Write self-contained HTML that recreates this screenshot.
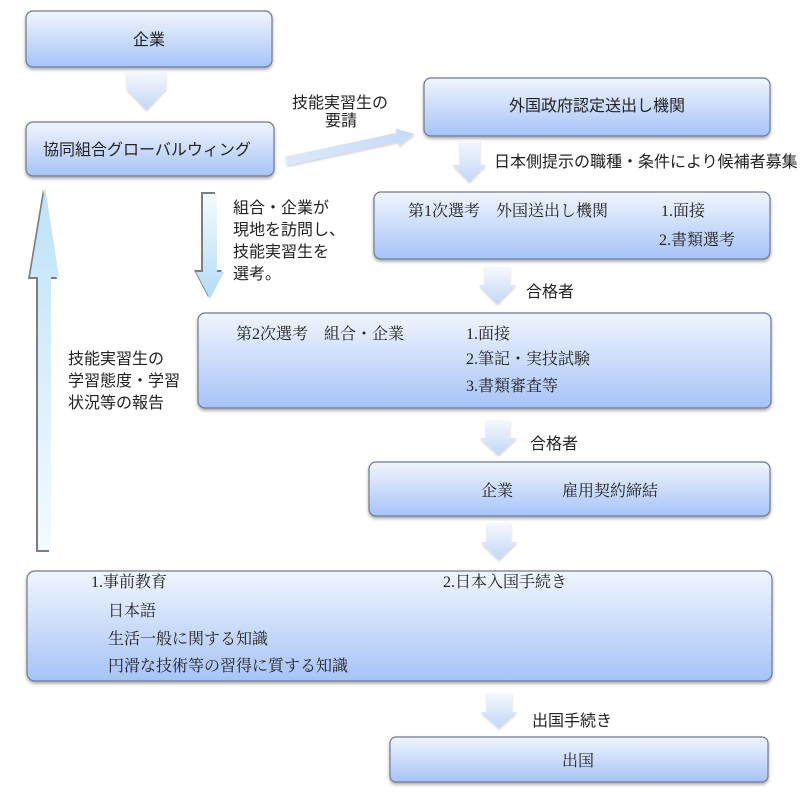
<!DOCTYPE html>
<html><head><meta charset="utf-8"><style>
html,body{margin:0;padding:0;background:#fff;}
svg{display:block;}
.s{font-family:"Liberation Sans","Noto Sans CJK JP",sans-serif;font-size:16px;fill:#222;}
.m{font-family:"Liberation Serif","Noto Serif CJK SC",serif;font-size:16px;fill:#222;}
</style></head><body>
<svg width="800" height="797" viewBox="0 0 800 797" xmlns="http://www.w3.org/2000/svg">
<defs>
<linearGradient id="bx" x1="0" y1="0" x2="0" y2="1">
<stop offset="0" stop-color="#f0f5fe"/><stop offset="1" stop-color="#a6c3f7"/>
</linearGradient>
<linearGradient id="ar" x1="0" y1="0" x2="0" y2="1">
<stop offset="0" stop-color="#f5f8fe"/><stop offset="1" stop-color="#c3d6f5"/>
</linearGradient>
<linearGradient id="up" x1="0" y1="0" x2="0" y2="1">
<stop offset="0" stop-color="#bce2f8"/><stop offset="1" stop-color="#f4faff"/>
</linearGradient>
<linearGradient id="dn" x1="0" y1="0" x2="0" y2="1">
<stop offset="0" stop-color="#f5faff"/><stop offset="1" stop-color="#b2dcf6"/>
</linearGradient>
<linearGradient id="dg" x1="0" y1="0" x2="1" y2="0">
<stop offset="0" stop-color="#dce8fa"/><stop offset="1" stop-color="#c9daf6"/>
</linearGradient>
<filter id="sh" x="-5%" y="-10%" width="110%" height="130%">
<feDropShadow dx="0" dy="2" stdDeviation="1.5" flood-color="#000" flood-opacity="0.35"/>
</filter>
<filter id="sh2" x="-10%" y="-10%" width="120%" height="130%">
<feDropShadow dx="0" dy="1.5" stdDeviation="1" flood-color="#000" flood-opacity="0.2"/>
</filter>
</defs>

<!-- boxes -->
<g fill="url(#bx)" stroke="#6f7a8b" stroke-width="1.2" filter="url(#sh)">
<rect x="26" y="11" width="246" height="56" rx="7"/>
<rect x="26" y="122" width="248" height="54" rx="7"/>
<rect x="424" y="78" width="346" height="58" rx="7"/>
<rect x="374" y="192" width="396" height="67" rx="7"/>
<rect x="198" y="313" width="573" height="95" rx="7"/>
<rect x="369" y="462" width="401" height="54" rx="7"/>
<rect x="27" y="571" width="745" height="110" rx="8"/>
<rect x="390" y="737" width="378" height="45" rx="6"/>
</g>

<!-- chevron under 企業 -->
<polygon points="127,72 166,72 166,89 146.5,110 127,89" fill="url(#ar)" filter="url(#sh2)"/>

<!-- block down arrows -->
<g fill="url(#ar)" filter="url(#sh2)">
<polygon points="460,140 480,140 480,165 486,165 469.5,182 453,165 460,165"/>
<polygon points="485,267 510,267 510,285 516,285 497.5,304 479,285 485,285"/>
<polygon points="486,420 510,420 510,438 517,438 498.5,455 480,438 486,438"/>
<polygon points="487,523 511,523 511,542 517,542 499,560 481,542 487,542"/>
<polygon points="487,693 512,693 512,712 517,712 499,728 481,712 487,712"/>
</g>

<!-- diagonal arrow -->
<g transform="translate(286,161) rotate(-12)" filter="url(#sh2)">
<polygon points="0,-4.5 114,-4.5 114,-9 131,0 114,9 114,4.5 0,4.5" fill="url(#dg)"/>
</g>

<!-- up arrow (left) -->
<polygon points="43,189 28,279 36,279 36,552 49,552 49,279 57,279" fill="#7d7d7d"/>
<polygon points="45,187 30,277 38,277 38,550 51,550 51,277 59,277" fill="url(#up)"/>

<!-- down arrow (組合) -->
<polygon points="201,192 215,192 215,270 222,270 208,297 194,270 201,270" fill="#7d7d7d"/>
<polygon points="203,194 217,194 217,272 224,272 210,299 196,272 203,272" fill="url(#dn)"/>

<!-- texts -->
<text class="s" x="149" y="45" text-anchor="middle">企業</text>
<text class="s" x="43" y="155">協同組合グローバルウィング</text>
<text class="s" x="340" y="108" text-anchor="middle">技能実習生の</text>
<text class="s" x="341" y="126" text-anchor="middle">要請</text>
<text class="s" x="597" y="111" text-anchor="middle">外国政府認定送出し機関</text>
<text class="s" x="494" y="167" font-size="15.8">日本側提示の職種・条件により候補者募集</text>

<text class="m" x="408" y="216">第1次選考　外国送出し機関</text>
<text class="m" x="661" y="216">1.面接</text>
<text class="m" x="659" y="245">2.書類選考</text>

<text class="s" x="233" y="213">組合・企業が</text>
<text class="s" x="233" y="235">現地を訪問し、</text>
<text class="s" x="233" y="257">技能実習生を</text>
<text class="s" x="233" y="279">選考。</text>

<text class="s" x="526" y="297">合格者</text>

<text class="m" x="236" y="339">第2次選考　組合・企業</text>
<text class="m" x="466" y="339">1.面接</text>
<text class="m" x="466" y="364">2.筆記・実技試験</text>
<text class="m" x="466" y="391">3.書類審査等</text>

<text class="s" x="68" y="364">技能実習生の</text>
<text class="s" x="68" y="386">学習態度・学習</text>
<text class="s" x="68" y="408">状況等の報告</text>

<text class="s" x="530" y="449">合格者</text>

<text class="m" x="481" y="496">企業</text>
<text class="m" x="562" y="496">雇用契約締結</text>

<text class="m" x="91" y="587">1.事前教育</text>
<text class="m" x="108" y="616">日本語</text>
<text class="m" x="108" y="644">生活一般に関する知識</text>
<text class="m" x="108" y="671">円滑な技術等の習得に質する知識</text>
<text class="m" x="443" y="587">2.日本入国手続き</text>

<text class="s" x="532" y="726">出国手続き</text>
<text class="m" x="578" y="766" text-anchor="middle">出国</text>
</svg>
</body></html>
